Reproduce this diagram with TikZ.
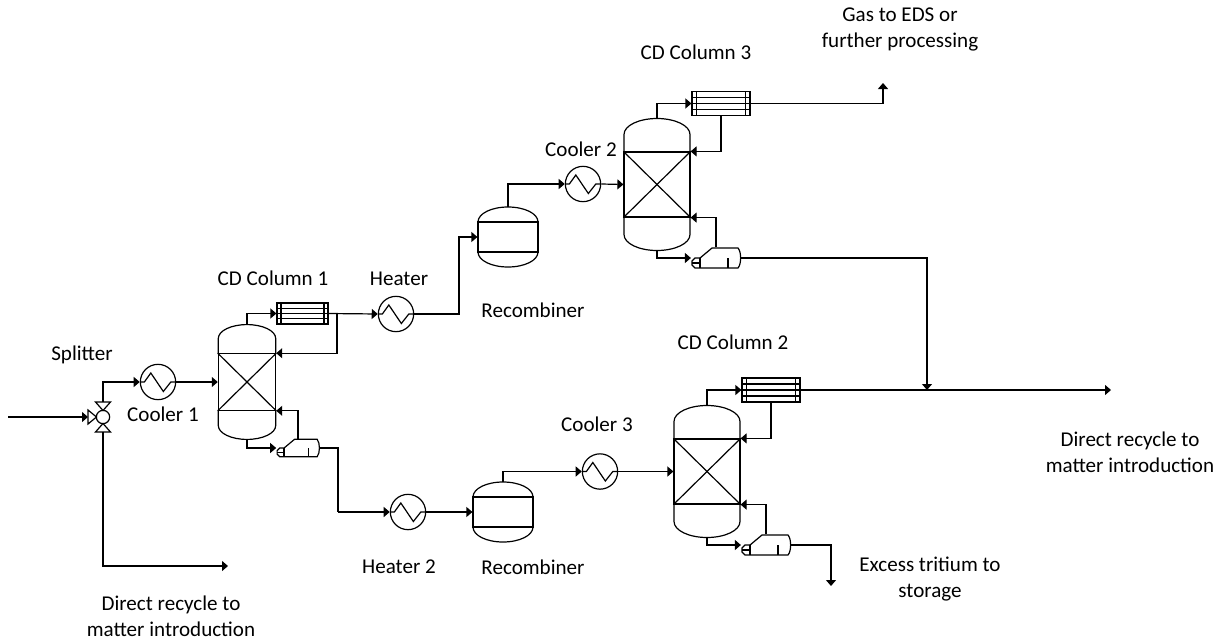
\documentclass[tikz,border=0pt]{standalone}
\usepackage{fontspec}
\setmainfont{Carlito}
\usetikzlibrary{arrows.meta, calc}

\tikzset{
  wall/.style={line width=.9pt},
  body/.style={rectangle, draw, line width=.9pt, inner sep=0pt},
  column/.pic={
    \node[body, minimum width=49.5pt, minimum height=48.75pt] (-body) at (0,0) {};
    \draw[wall] (-body.north west) -- (-body.south east);
    \draw[wall] (-body.north east) -- (-body.south west);
    \draw[wall] (-33,-32.5) -- (-33,-50) .. controls (-33,-59) and (-18,-66) .. (0,-66)
                .. controls (18,-66) and (33,-59) .. (33,-50) -- (33,-32.5);
    \draw[wall] (-33,32.5) -- (-33,50) .. controls (-33,59) and (-18,66) .. (0,66)
                .. controls (18,66) and (33,59) .. (33,50) -- (33,32.5);
    \coordinate (-top) at (0,-66);
    \coordinate (-bot) at (0,66);
  },
  recomb/.pic={
    \node[body, minimum width=45pt, minimum height=22.5pt] (-body) at (0,0) {};
    \draw[wall] (-30,-15) .. controls (-30,-23.5) and (-16.5,-30) .. (0,-30)
                .. controls (16.5,-30) and (30,-23.5) .. (30,-15);
    \draw[wall] (-30,15) .. controls (-30,23.5) and (-16.5,30) .. (0,30)
                .. controls (16.5,30) and (30,23.5) .. (30,15);
    \coordinate (-top) at (0,-30);
  },
  reboil/.pic={
    \node[body, draw=none, minimum width=36.75pt, minimum height=15pt] (-box) at (0,0) {};
    \draw[wall] (-16,0) -- (-4,-10) -- (22,-10) .. controls (25.5,-6) and (25.5,6) .. (22,10)
                -- (-21,10) -- (-24,7) -- (-24,3) -- (-21,0) -- cycle;
    \draw[wall] (-16,0) -- (-16,10) (-24,5) -- (-16,5) (12,0) -- (12,10);
  },
  splitvalve/.pic={
    \node[circle, wall, draw, minimum size=10pt, inner sep=0pt] (-c) at (0,0) {};
    \draw[wall] (-6.5,0) -- (-15,-7) -- (-15,7) -- cycle;
    \draw[wall] (0,-6.5) -- (-7.5,-15) -- (7.5,-15) -- cycle;
    \draw[wall] (0,6.5) -- (-7.5,15) -- (7.5,15) -- cycle;
    \coordinate (-w) at (-15,0);
    \coordinate (-n) at (0,-15);
    \coordinate (-s) at (0,15);
  }
}

\begin{document}
\begin{tikzpicture}[
  x=0.75pt, y=-0.75pt,
  arr/.style={-{Triangle[length=4.5pt, width=7.5pt]}, line width=.9pt},
  pipe/.style={line width=.9pt},
  hx/.style={circle, draw, line width=.9pt, inner sep=0pt, minimum size=26.5pt,
             path picture={\draw[line width=.9pt] (path picture bounding box.west) -- ++(4,0) -- ++(6.5,-9) -- ++(12.5,18.5) -- ++(7.5,-9.5) -- (path picture bounding box.east);}},
  cond/.style={rectangle, draw, line width=.9pt, inner sep=0pt, minimum width=43.5pt, minimum height=18pt,
               path picture={
                 \foreach \f in {.08,.92}
                   \draw[line width=.9pt] ($(path picture bounding box.north west)!\f!(path picture bounding box.north east)$) -- ($(path picture bounding box.south west)!\f!(path picture bounding box.south east)$);
                 \foreach \f in {.25,.5,.75}
                   \draw[line width=.9pt] ($(path picture bounding box.north west)!\f!(path picture bounding box.south west)$) -- ($(path picture bounding box.north east)!\f!(path picture bounding box.south east)$);
               }},
  lbl/.style={align=center, inner sep=0pt, font=\fontsize{15.8}{19.5}\selectfont}
]
\useasboundingbox (0,0) rectangle (1223,642);

\pic (split) at (103,417) {splitvalve};
\node[hx] (cool1) at (158,382) {};
\pic[scale=.87, every node/.append style={transform shape}] (col1) at (247,382) {column};
\node[cond, minimum width=38.25pt, minimum height=15.75pt] (cond1) at (302.5,313.5) {};
\pic[scale=.87, every node/.append style={transform shape}] (reb1) at (298,448) {reboil};
\node[hx] (heat1) at (396,314) {};
\pic (rec1) at (508,237) {recomb};
\node[hx] (cool2) at (583,184) {};
\pic (col3) at (657,184.5) {column};
\node[cond] (cond3) at (721,103.5) {};
\pic (reb3) at (716,258) {reboil};
\node[hx] (heat2) at (408,512) {};
\pic (rec2) at (503,512) {recomb};
\node[hx] (cool3) at (600,471.5) {};
\pic (col2) at (707,471.5) {column};
\node[cond] (cond2) at (771,390) {};
\pic (reb2) at (766,545) {reboil};

\coordinate (feed) at (8,417);
\coordinate (rec1end) at (228,566);
\coordinate (gasout) at (883,83);
\coordinate (tee) at (927,390);
\coordinate (rec2end) at (1111,390);
\coordinate (store) at (831,586);
\coordinate (refl1) at (337,314);
\coordinate (riser) at (459,314);
\coordinate (drop1) at (338,512);
\coordinate (drop2) at (103,566);

\node[lbl] (l1)  at (82,355)   {Splitter};
\node[lbl] (l2)  at (163,414)  {Cooler 1};
\node[lbl] (l3)  at (273,278)  {CD Column 1};
\node[lbl] (l4)  at (399,279)  {Heater};
\node[lbl] (l5)  at (533,310)  {Recombiner};
\node[lbl] (l6)  at (581,149)  {Cooler 2};
\node[lbl] (l7)  at (696,52)   {CD Column 3};
\node[lbl] (l8)  at (900,29)   {Gas to EDS or \\ further processing};
\node[lbl] (l9)  at (733,342)  {CD Column 2};
\node[lbl] (l10) at (597,424)  {Cooler 3};
\node[lbl] (l11) at (1130,452) {Direct recycle to \\ matter introduction};
\node[lbl] (l12) at (930,579)  {Excess tritium to \\ storage};
\node[lbl] (l13) at (533,567)  {Recombiner};
\node[lbl] (l14) at (399,567)  {Heater 2};
\node[lbl] (l15) at (171,616)  {Direct recycle to \\ matter introduction};

\draw[arr] (feed) -- (split-w);
\draw[arr] (split-n) |- (cool1.west);
\draw[arr] (cool1.east) -- (col1-body.west);
\draw[arr] (split-s) -- (drop2) -- (rec1end);
\draw[arr] (col1-top) |- (cond1.west);
\draw[arr] (cond1.east) -- (heat1.west);
\draw[arr] (refl1) |- (col1-body.north east);
\draw[arr] (col1-bot) |- (reb1-box.west);
\draw[arr] (reb1-box.north) |- (col1-body.south east);
\draw[pipe] (reb1-box.east) -| (drop1);
\draw[arr] (drop1) -- (heat2.west);
\draw[arr] (heat2.east) -- (rec2-body.west);
\draw[arr] (heat1.east) -- (riser) |- (rec1-body.west);
\draw[arr] (rec1-top) |- (cool2.west);
\draw[arr] (cool2.east) -- (col3-body.west);
\draw[arr] (col3-top) |- (cond3.west);
\draw[arr] (cond3.south) |- (col3-body.north east);
\draw[arr] (cond3.east) -| (gasout);
\draw[arr] (col3-bot) |- (reb3-box.west);
\draw[arr] (reb3-box.north) |- (col3-body.south east);
\draw[arr] (reb3-box.east) -| (tee);
\draw[arr] (rec2-top) |- (cool3.west);
\draw[arr] (cool3.east) -- (col2-body.west);
\draw[arr] (col2-top) |- (cond2.west);
\draw[arr] (cond2.south) |- (col2-body.north east);
\draw[arr] (cond2.east) -- (rec2end);
\draw[arr] (col2-bot) |- (reb2-box.west);
\draw[arr] (reb2-box.north) |- (col2-body.south east);
\draw[arr] (reb2-box.east) -| (store);
\end{tikzpicture}
\end{document}
